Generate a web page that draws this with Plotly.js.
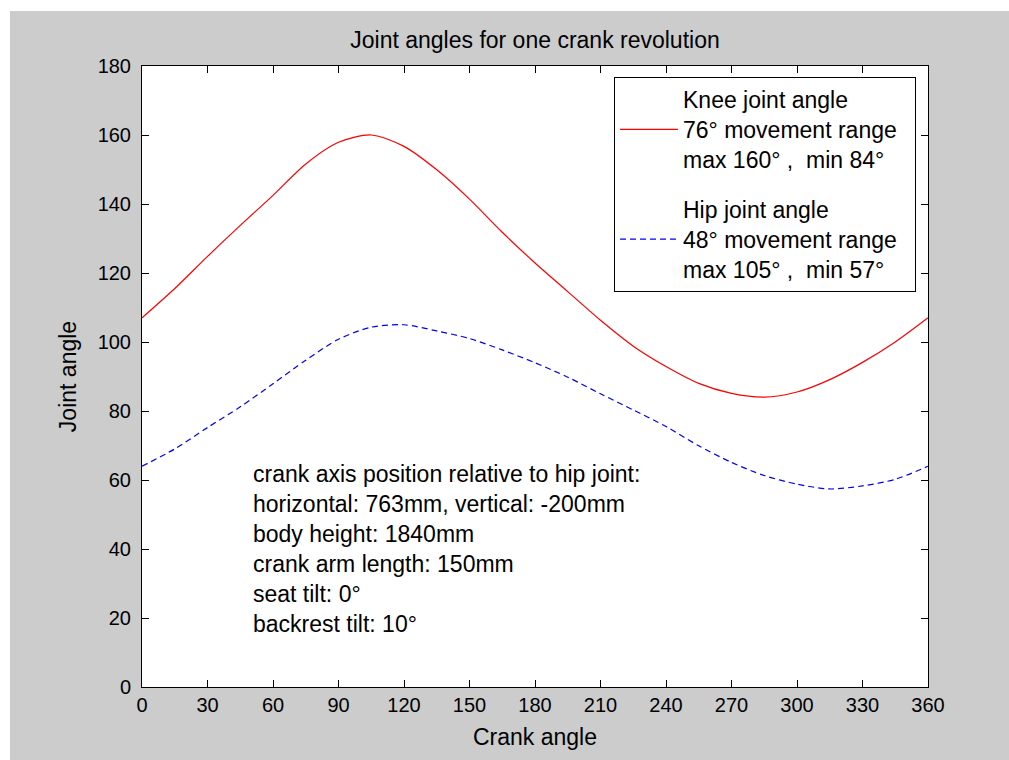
<!DOCTYPE html>
<html>
<head>
<meta charset="utf-8">
<script src="https://cdn.plot.ly/plotly-3.0.1.min.js"></script>
<style>
  html, body { margin: 0; padding: 0; background: #ffffff; }
  #chart { position: absolute; left: 10px; top: 11px; width: 999px; height: 749px; }
</style>
</head>
<body>
<div id="chart"></div>
<script>
// Crank angle (degrees)
const crankAngle = [0, 15, 30, 45, 60, 75, 90, 105, 120, 135, 150, 165, 180,
                    195, 210, 225, 240, 255, 270, 285, 300, 315, 330, 345, 360];
// Knee joint angle (degrees)
const kneeAngle = [107, 115.5, 124.8, 133.8, 142.5, 151.6, 157.9, 160, 156.7, 149.9, 141.4, 131.8, 122.9,
                   114.6, 106.3, 98.8, 92.9, 88.0, 85.1, 84, 85.5, 89.1, 94.1, 100, 107];
// Hip joint angle (degrees)
const hipAngle = [64, 69, 75.2, 81.2, 87.9, 94.7, 100.8, 104.3, 105, 103.2, 101, 97.7, 94,
                  89.8, 85, 80.3, 75.5, 69.9, 65.1, 61.3, 58.8, 57.4, 58.3, 60.2, 64];

const seriesNames = [
  "Knee joint angle<br>76° movement range\u00A0\u00A0<br>max 160° ,  min 84°",
  "Hip joint angle<br>48° movement range\u00A0\u00A0<br>max 105° ,  min 57°"
];
const infoLines = [
  "crank axis position relative to hip joint:",
  "horizontal: 763mm, vertical: -200mm",
  "body height: 1840mm",
  "crank arm length: 150mm",
  "seat tilt: 0°",
  "backrest tilt: 10°"
];
const xTicks = [0, 30, 60, 90, 120, 150, 180, 210, 240, 270, 300, 330, 360];
const yTicks = [0, 20, 40, 60, 80, 100, 120, 140, 160, 180];

const FONT = "'Liberation Sans', Arial, sans-serif";

const traces = [
  {
    x: crankAngle, y: kneeAngle, type: 'scatter', mode: 'lines',
    name: seriesNames[0], legendgroup: 'knee',
    line: { color: '#ff0000', width: 1.2, shape: 'spline', smoothing: 0.8 }
  },
  {
    x: crankAngle, y: hipAngle, type: 'scatter', mode: 'lines',
    name: seriesNames[1], legendgroup: 'hip',
    line: { color: '#0000ff', width: 1.2, dash: '6px,4px', shape: 'spline', smoothing: 0.8 }
  }
];

const layout = {
  width: 999, height: 749,
  paper_bgcolor: '#cccccc',
  plot_bgcolor: '#ffffff',
  margin: { l: 132, r: 81, t: 55, b: 73, pad: 0 },
  font: { family: FONT, size: 23, color: '#000000' },
  title: {
    text: 'Joint angles for one crank revolution',
    font: { family: FONT, size: 23, color: '#000000' },
    x: 0.5, xref: 'paper', y: 0.961, yref: 'container', yanchor: 'middle'
  },
  xaxis: {
    range: [0, 360], tickmode: 'array', tickvals: xTicks, ticktext: xTicks.map(String),
    ticks: 'inside', ticklen: 7, tickwidth: 1, tickcolor: '#000000',
    showline: true, linecolor: '#000000', linewidth: 1, mirror: 'ticks',
    showgrid: false, zeroline: false,
    tickfont: { family: FONT, size: 20, color: '#000000' },
    title: { text: 'Crank angle', font: { family: FONT, size: 23, color: '#000000' }, standoff: 13 }
  },
  yaxis: {
    range: [0, 180], tickmode: 'array', tickvals: yTicks, ticktext: yTicks.map(String),
    ticks: 'inside', ticklen: 7, tickwidth: 1, tickcolor: '#000000',
    showline: true, linecolor: '#000000', linewidth: 1, mirror: 'ticks',
    showgrid: false, zeroline: false, ticklabelstandoff: 6,
    tickfont: { family: FONT, size: 20, color: '#000000' },
    title: { text: 'Joint angle', font: { family: FONT, size: 23, color: '#000000' }, standoff: 14 }
  },
  showlegend: true,
  legend: {
    x: 0.6005, y: 0.9823, xanchor: 'left', yanchor: 'top',
    bgcolor: '#ffffff', bordercolor: '#000000', borderwidth: 1,
    font: { family: FONT, size: 23, color: '#000000' },
    traceorder: 'grouped', tracegroupgap: 17, itemwidth: 58, valign: 'middle'
  },
  annotations: [{
    x: 50, y: 40, xref: 'x', yref: 'y', xanchor: 'left', yanchor: 'middle',
    align: 'left', showarrow: false,
    text: infoLines.join('<br>'),
    font: { family: FONT, size: 23, color: '#000000' }
  }]
};

Plotly.newPlot('chart', traces, layout, { displayModeBar: false, staticPlot: true });
</script>
</body>
</html>
